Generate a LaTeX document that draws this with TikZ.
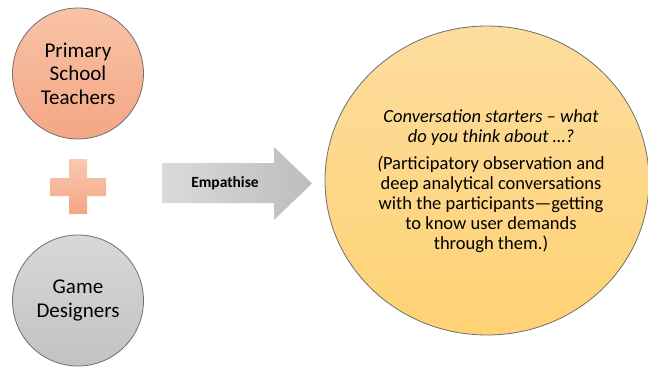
\documentclass[tikz,border=0pt]{standalone}
\usepackage{fontspec}
\setmainfont{Carlito}
\usetikzlibrary{shapes.geometric,shapes.arrows,shadings}
\definecolor{salmonA}{HTML}{F8C3A8}
\definecolor{salmonB}{HTML}{F4A684}
\definecolor{greyA}{HTML}{D8D8D8}
\definecolor{greyB}{HTML}{C2C2C2}
\definecolor{yelA}{HTML}{FDDD9E}
\definecolor{yelB}{HTML}{FED274}
\definecolor{edge}{HTML}{6E6E6E}
\definecolor{arrA}{HTML}{DADADA}
\definecolor{arrB}{HTML}{BDBDBD}
\tikzset{
  roundbox/.style={circle, minimum size=131pt, inner sep=0pt, draw=edge, line width=0.8pt, align=center, font=\fontsize{21}{23.5}\selectfont},
  bigtext/.style={align=center, font=\fontsize{18.5}{20}\selectfont},
}
\begin{document}
\begin{tikzpicture}[x=1pt,y=-1pt]
\useasboundingbox (0,0) rectangle (648,370);
% top circle
\node[roundbox, top color=salmonA, bottom color=salmonB] (teach) at (78,73.5) {Primary\\School\\Teachers};
% bottom circle
\node[roundbox, top color=greyA, bottom color=greyB] (game) at (78,300.5) {Game\\Designers};
% plus
\path[top color=salmonA!90!white, bottom color=salmonB, draw=none]
  (69,159) -- (87,159) -- (87,178) -- (106,178) -- (106,196) -- (87,196) -- (87,214) -- (69,214) -- (69,196) -- (50,196) -- (50,178) -- (69,178) -- cycle;
\coordinate (plus) at (78,187);
% arrow
\path[left color=arrA, right color=arrB]
  (162,163) -- (274,163) -- (274,147) -- (312,183.5) -- (274,220) -- (274,203) -- (162,203) -- cycle;
\node[font=\fontsize{15.5}{17}\selectfont\bfseries] (emp) at (225,183.5) {Empathise};
% big ellipse
\node[ellipse, minimum width=324pt, minimum height=309pt, inner sep=0pt, draw=edge, line width=0.8pt, top color=yelA, bottom color=yelB] (conv) at (487,180.5) {};
\node[bigtext] (t1) at (491,128) {\itshape Conversation starters – what\\\itshape do you think about …?};
\node[bigtext] (t2) at (491,204) {\itshape(\upshape Participatory observation and\\deep analytical conversations\\with the participants—getting\\to know user demands\\through them.)};
\end{tikzpicture}
\end{document}
